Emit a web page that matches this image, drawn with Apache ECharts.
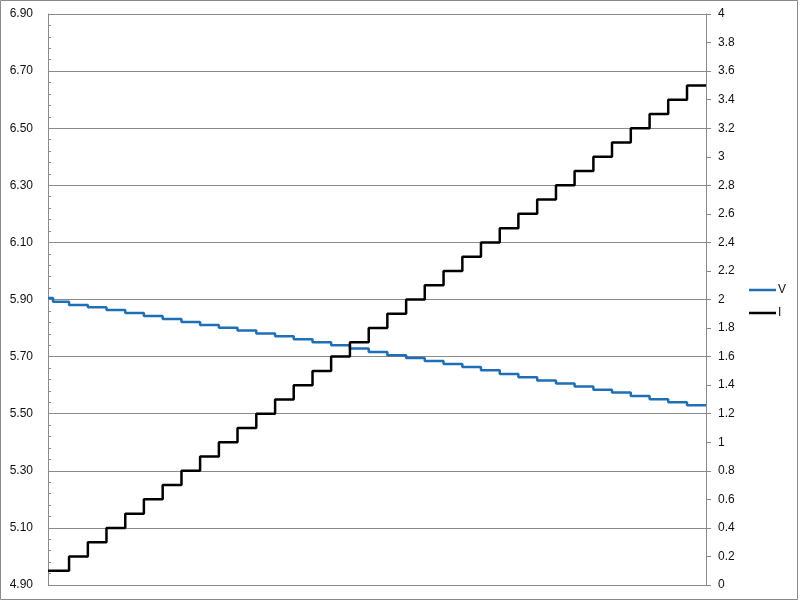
<!DOCTYPE html>
<html>
<head>
<meta charset="utf-8">
<script src="https://cdn.jsdelivr.net/npm/echarts@6/dist/echarts.min.js"></script>
<style>
  html, body { margin: 0; padding: 0; background: #fff; }
  #chart { width: 800px; height: 601px; }
</style>
</head>
<body>
<div id="chart"></div>
<script>
// ---- data ----
const seriesNames = ['V', 'I'];
const leftTicks = ['4.90','5.10','5.30','5.50','5.70','5.90','6.10','6.30','6.50','6.70','6.90'];
const rightTicks = ['0','0.2','0.4','0.6','0.8','1','1.2','1.4','1.6','1.8','2','2.2','2.4','2.6','2.8','3','3.2','3.4','3.6','3.8','4'];
// start time of each current step (arbitrary time units)
const stepTimes = [0, 1.12, 2.12, 3.11, 4.11, 5.10, 6.10, 7.10, 8.09, 9.09, 10.08, 11.08, 12.08, 13.07, 14.07, 15.06, 16.06, 17.06, 18.05, 19.05, 20.04, 21.04, 22.04, 23.03, 24.03, 25.02, 26.02, 27.02, 28.01, 29.01, 30.00, 31.00, 32.00, 32.99, 33.99];
const endTime = 35;
const iLevels = [0.1, 0.2, 0.3, 0.4, 0.5, 0.6, 0.7, 0.8, 0.9, 1.0, 1.1, 1.2, 1.3, 1.4, 1.5, 1.6, 1.7, 1.8, 1.9, 2.0, 2.1, 2.2, 2.3, 2.4, 2.5, 2.6, 2.7, 2.8, 2.9, 3.0, 3.1, 3.2, 3.3, 3.4, 3.5];
const vStart = 5.905;
const vFirstDropTime = 0.27;
const vLevels = [5.892, 5.881, 5.873, 5.863, 5.853, 5.842, 5.832, 5.821, 5.811, 5.801, 5.791, 5.781, 5.771, 5.761, 5.750, 5.740, 5.728, 5.716, 5.705, 5.695, 5.685, 5.674, 5.664, 5.652, 5.639, 5.628, 5.616, 5.606, 5.595, 5.584, 5.574, 5.562, 5.551, 5.540, 5.530];

// ---- build series data ----
const vData = [[stepTimes[0], vStart]];
vLevels.forEach((v, i) => vData.push([i === 0 ? vFirstDropTime : stepTimes[i], v]));
vData.push([endTime, vLevels[vLevels.length - 1]]);
const iData = stepTimes.map((t, i) => [t, iLevels[i]]);
iData.push([endTime, iLevels[iLevels.length - 1]]);

const FONT = 'Liberation Sans';
const GRID_GRAY = '#8a8a8a';

const chart = echarts.init(document.getElementById('chart'), null, { renderer: 'canvas' });
chart.setOption({
  animation: false,
  backgroundColor: '#fff',
  textStyle: { fontFamily: FONT },
  graphic: [{
    type: 'rect', z: 100, silent: true,
    shape: { x: 0.5, y: 0.5, width: 797, height: 599 },
    style: { fill: 'none', stroke: '#8a8a8a', lineWidth: 1 }
  }],
  grid: { left: 48, right: 94, top: 14, bottom: 16, containLabel: false },
  legend: {
    orient: 'vertical', left: 749, top: 284, padding: 0,
    itemWidth: 27, itemHeight: 2.5, itemGap: 11, icon: 'rect',
    data: seriesNames,
    textStyle: { fontFamily: FONT, fontSize: 12, color: '#111', padding: [0, 0, 0, -3] }
  },
  xAxis: { type: 'value', min: 0, max: endTime, show: false },
  yAxis: [{
    type: 'value', position: 'left',
    min: Number(leftTicks[0]), max: Number(leftTicks[leftTicks.length - 1]), interval: 0.2,
    axisLine: { show: true, lineStyle: { color: GRID_GRAY, width: 1 } },
    axisTick: { show: true, inside: true, length: 3, lineStyle: { color: GRID_GRAY } },
    minorTick: { show: true, splitNumber: 5, length: 3, lineStyle: { color: GRID_GRAY } },
    splitLine: { show: true, lineStyle: { color: GRID_GRAY, width: 1 } },
    axisLabel: {
      margin: 15, fontSize: 12, fontFamily: FONT, color: '#111',
      formatter: v => leftTicks.find(t => Math.abs(Number(t) - v) < 1e-6) || v.toFixed(2)
    }
  }, {
    type: 'value', position: 'right',
    min: Number(rightTicks[0]), max: Number(rightTicks[rightTicks.length - 1]), interval: 0.2,
    axisLine: { show: true, lineStyle: { color: GRID_GRAY, width: 1 } },
    axisTick: { show: true, inside: false, length: 5, lineStyle: { color: GRID_GRAY } },
    splitLine: { show: false },
    axisLabel: {
      margin: 12, fontSize: 12, fontFamily: FONT, color: '#111',
      formatter: v => rightTicks.find(t => Math.abs(Number(t) - v) < 1e-6) || String(v)
    }
  }],
  series: [{
    name: seriesNames[0], type: 'line', yAxisIndex: 0, step: 'end',
    data: vData, showSymbol: false, symbol: 'none',
    lineStyle: { color: '#1f6fb6', width: 2.5 }, itemStyle: { color: '#1f6fb6' }
  }, {
    name: seriesNames[1], type: 'line', yAxisIndex: 1, step: 'end',
    data: iData, showSymbol: false, symbol: 'none',
    lineStyle: { color: '#000', width: 2.5 }, itemStyle: { color: '#000' }
  }]
});
</script>
</body>
</html>
